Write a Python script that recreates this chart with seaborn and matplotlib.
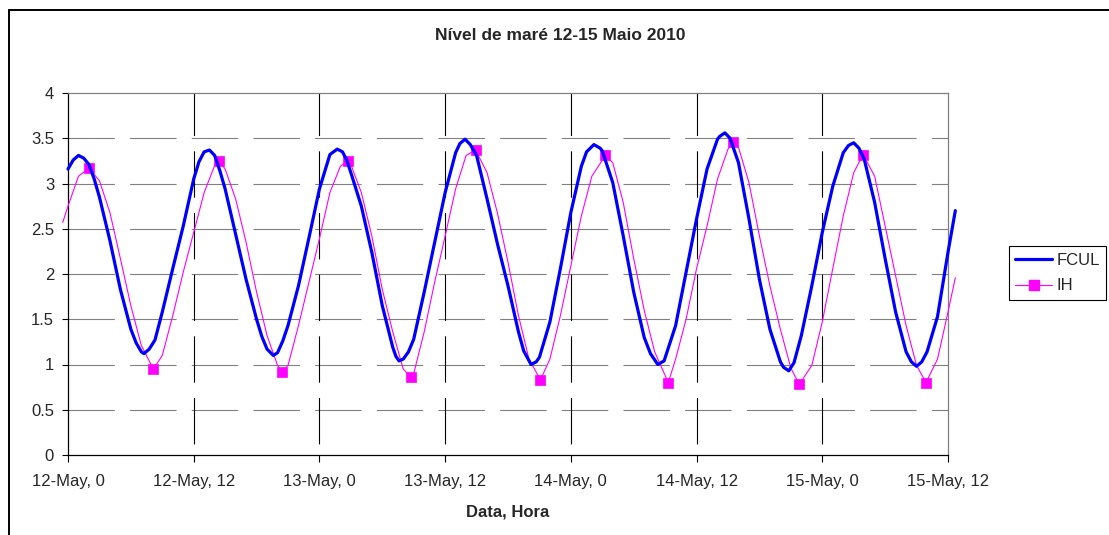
import matplotlib
matplotlib.use("Agg")
import numpy as np
import pandas as pd
import matplotlib.pyplot as plt
import seaborn as sns
from matplotlib.lines import Line2D

sns.set_theme(style="white")
plt.rcParams["font.family"] = ["Liberation Sans", "DejaVu Sans"]
plt.rcParams["lines.scale_dashes"] = False

# Tide level (m), hours counted from 12 May 2010 00:00
fcul_hours = [0, 0.5, 1, 1.5, 2, 2.5, 3, 4, 5, 6, 6.5, 7, 7.25, 7.75, 8.3, 9, 10, 11, 12,
              12.5, 13, 13.5, 14, 14.5, 15, 16, 17, 18, 18.5, 19, 19.6, 20, 20.5, 21, 22,
              23, 24, 25, 25.7, 26.2, 26.6, 27, 28, 29, 30, 31, 31.3, 31.6, 32, 32.5, 33,
              34, 35, 36, 37, 37.4, 37.9, 38.4, 39, 40, 41, 42, 43, 43.5, 44.2, 44.7, 45,
              46, 47, 48, 49, 49.5, 50.2, 50.8, 51, 52, 53, 54, 55, 55.6, 56.3, 56.9, 58,
              59, 60, 61, 62, 62.2, 62.7, 63.2, 64, 65, 66, 67, 68, 68.3, 68.8, 69.3, 70,
              71, 72, 73, 74, 74.5, 75, 75.5, 76, 77, 78, 79, 80, 80.5, 81, 81.5, 82, 83,
              84, 84.7]
fcul_level = [3.16, 3.26, 3.31, 3.28, 3.21, 3.05, 2.85, 2.37, 1.83, 1.39, 1.24, 1.14, 1.12,
              1.17, 1.27, 1.58, 2.06, 2.53, 3.05, 3.24, 3.35, 3.37, 3.31, 3.14, 2.94, 2.44,
              1.94, 1.50, 1.31, 1.17, 1.10, 1.13, 1.26, 1.43, 1.87, 2.40, 2.94, 3.32, 3.38,
              3.35, 3.26, 3.12, 2.75, 2.24, 1.65, 1.19, 1.09, 1.04, 1.06, 1.14, 1.28, 1.80,
              2.35, 2.90, 3.34, 3.44, 3.49, 3.43, 3.31, 2.83, 2.33, 1.87, 1.36, 1.15, 1.00,
              1.03, 1.08, 1.47, 2.06, 2.68, 3.19, 3.35, 3.43, 3.39, 3.36, 3.01, 2.42, 1.80,
              1.30, 1.12, 1.00, 1.04, 1.43, 2.02, 2.61, 3.16, 3.49, 3.52, 3.56, 3.50, 3.23,
              2.61, 1.94, 1.39, 1.03, 0.97, 0.93, 1.02, 1.32, 1.87, 2.46, 2.97, 3.34, 3.42,
              3.45, 3.39, 3.27, 2.79, 2.17, 1.58, 1.14, 1.03, 0.98, 1.03, 1.14, 1.53, 2.24,
              2.70]

ih_hours = [-0.5, 0, 1, 3, 4, 5, 6, 7, 9, 10, 11, 12, 13, 14, 15, 16, 17, 18, 19, 20, 21,
            22, 23, 24, 25, 26, 27, 28, 29, 30, 31, 32, 33, 34, 35, 36, 37, 38, 40, 41,
            42, 43, 44, 46, 47, 48, 49, 50, 52, 53, 54, 55, 56, 58, 59, 60, 61, 62, 63,
            64, 65, 66, 67, 68, 69, 71, 72, 73, 74, 75, 77, 78, 79, 80, 81, 83, 84, 84.7]
ih_level = [2.57, 2.75, 3.08, 3.03, 2.68, 2.17, 1.65, 1.21, 1.10, 1.54, 2.02, 2.46, 2.90,
            3.20, 3.16, 2.83, 2.35, 1.80, 1.32, 0.99, 0.99, 1.43, 1.91, 2.39, 2.90, 3.19,
            3.21, 2.90, 2.42, 1.83, 1.36, 0.95, 0.90, 1.36, 1.91, 2.42, 2.94, 3.31, 3.12,
            2.67, 2.13, 1.54, 1.06, 1.06, 1.54, 2.09, 2.64, 3.08, 3.23, 2.79, 2.17, 1.60,
            1.14, 1.06, 1.50, 2.06, 2.53, 3.05, 3.38, 3.40, 3.01, 2.42, 1.87, 1.39, 0.96,
            0.99, 1.47, 2.06, 2.64, 3.12, 3.08, 2.53, 1.98, 1.43, 0.99, 1.06, 1.58, 1.96]

# High and low water (IH)
ih_extreme_hours = [2.0, 8.15, 14.4, 20.4, 26.7, 32.7, 38.9, 45.1, 51.3, 57.3, 63.5, 69.8,
                    75.9, 81.9]
ih_extreme_level = [3.17, 0.95, 3.25, 0.92, 3.25, 0.86, 3.37, 0.83, 3.31, 0.80, 3.46, 0.78,
                    3.32, 0.80]

tick_hours = [0, 12, 24, 36, 48, 60, 72, 84]
tick_labels = ["12-May, 0", "12-May, 12", "13-May, 0", "13-May, 12",
               "14-May, 0", "14-May, 12", "15-May, 0", "15-May, 12"]
level_ticks = [0, 0.5, 1, 1.5, 2, 2.5, 3, 3.5, 4]

BLUE = "#0000FF"
PINK = "#FF00FF"
W, H = 1109, 535

fcul = pd.DataFrame({"hora": fcul_hours, "nivel": fcul_level})
ih = pd.concat([
    pd.DataFrame({"hora": ih_hours, "nivel": ih_level, "extremo": False}),
    pd.DataFrame({"hora": ih_extreme_hours, "nivel": ih_extreme_level, "extremo": True}),
]).sort_values("hora").reset_index(drop=True)
marker_idx = list(np.flatnonzero(ih["extremo"].to_numpy()))

fig = plt.figure(figsize=(W / 100, H / 100), dpi=100)
fig.patch.set_facecolor("white")
ax = fig.add_axes([68 / W, (H - 455) / H, 880 / W, 362 / H])
ax.set_facecolor("white")

dash = (0, (33.4, 11.0))
for lv in level_ticks[1:-1]:
    ax.axhline(lv, color="#808080", lw=0.8, linestyle=dash, zorder=0.5)
for hr in tick_hours[1:-1]:
    ax.axvline(hr, color="black", lw=0.8, linestyle=(36.4, (33.4, 11.0)), zorder=0.5)

sns.lineplot(data=ih, x="hora", y="nivel", ax=ax, color=PINK, lw=0.8, marker="s",
             markevery=marker_idx, markersize=7, markerfacecolor=PINK,
             markeredgecolor=PINK, markeredgewidth=0.5, clip_on=False, zorder=3,
             legend=False)
sns.lineplot(data=fcul, x="hora", y="nivel", ax=ax, color=BLUE, lw=2.3,
             clip_on=False, zorder=4, legend=False)
for ln in ax.get_lines()[-2:]:
    ln.set_solid_joinstyle("round")

ax.set_xlim(0, 84)
ax.set_ylim(0, 4)
ax.set_xticks(tick_hours)
ax.set_xticklabels(tick_labels, fontsize=12)
ax.set_yticks(level_ticks)
ax.set_yticklabels([f"{v:g}" for v in level_ticks], fontsize=12)
ax.set_xlabel("")
ax.set_ylabel("")
ax.tick_params(axis="x", direction="out", length=5, width=0.8, color="black", pad=9,
               bottom=True)
ax.tick_params(axis="y", direction="out", length=4, width=0.8, color="black", pad=6,
               left=True)
for side in ("left", "bottom"):
    ax.spines[side].set_color("black")
    ax.spines[side].set_linewidth(0.9)
for side in ("top", "right"):
    ax.spines[side].set_color("#808080")
    ax.spines[side].set_linewidth(0.9)

fig.text(560 / W, 1 - 35 / H, "Nível de maré 12-15 Maio 2010", ha="center", va="center",
         fontsize=12.5, fontweight="bold")
fig.text(508 / W, 1 - 512 / H, "Data, Hora", ha="center", va="center",
         fontsize=12, fontweight="bold")

handles = [
    Line2D([], [], color=BLUE, lw=2.3),
    Line2D([], [], color=PINK, lw=0.8, marker="s", markersize=7,
           markerfacecolor=PINK, markeredgecolor=PINK),
]
leg = fig.legend(handles, ["FCUL", "IH"], loc="center left",
                 bbox_to_anchor=(1009 / W, 1 - 273 / H), frameon=True, fancybox=False,
                 edgecolor="black", framealpha=1, fontsize=12, handlelength=2.2,
                 handletextpad=0.25, borderpad=0.38, labelspacing=0.65, borderaxespad=0,
                 numpoints=1)
leg.get_frame().set_linewidth(0.8)

# chart frame
fig.add_artist(Line2D([9 / W, 9 / W], [0, 1 - 10 / H], transform=fig.transFigure,
                      color="black", lw=1.4))
fig.add_artist(Line2D([9 / W, 1], [1 - 10 / H, 1 - 10 / H], transform=fig.transFigure,
                      color="black", lw=1.4))

fig.savefig("out.png", dpi=100, facecolor="white")
